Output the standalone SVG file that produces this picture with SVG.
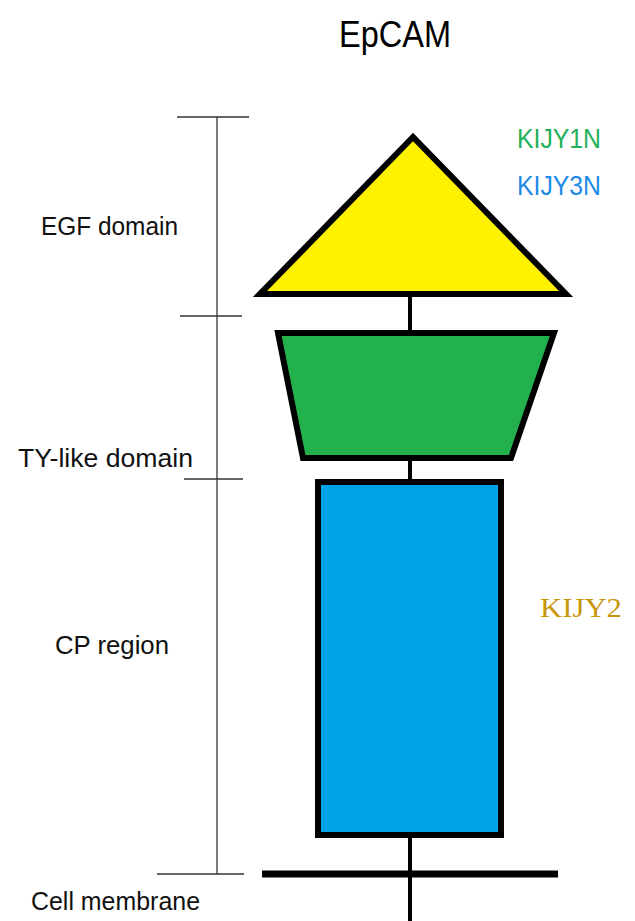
<svg xmlns="http://www.w3.org/2000/svg" width="635" height="921" viewBox="0 0 635 921">
<style>
.shape{stroke:#000;stroke-width:6;stroke-linejoin:miter}
.stem{stroke:#000;stroke-width:4;fill:none}
.scale{stroke:#333;stroke-width:1.3;fill:none}
.lbl{font-family:"Liberation Sans",Arial,sans-serif;font-size:25px;fill:#111}
.ab{font-family:"Liberation Sans",Arial,sans-serif;font-size:27px}
</style>
<rect width="635" height="921" fill="#fff"/>
<text x="395" y="47" text-anchor="middle" font-family="Liberation Sans, Arial, sans-serif" font-size="36" textLength="112" lengthAdjust="spacingAndGlyphs" fill="#000">EpCAM</text>
<g id="connectors">
<line class="stem" x1="410" y1="295" x2="410" y2="334"/>
<line class="stem" x1="410" y1="458" x2="410" y2="482"/>
<line class="stem" x1="410" y1="836" x2="410" y2="921"/>
</g>
<g id="scale">
<line class="scale" x1="217" y1="117" x2="217" y2="874"/>
<line class="scale" x1="177" y1="117" x2="249" y2="117"/>
<line class="scale" x1="180" y1="316" x2="242" y2="316"/>
<line class="scale" x1="184" y1="479" x2="243" y2="479"/>
<line class="scale" x1="157" y1="874" x2="244" y2="874"/>
</g>
<g id="egf">
<polygon class="shape" points="413,137 260,294 566,294" fill="#fff200"/>
</g>
<g id="ty">
<polygon class="shape" points="278,333 554,333 511,458 303,458" fill="#22b14c"/>
</g>
<g id="cp">
<rect class="shape" x="318" y="482" width="183" height="353" fill="#00a2e8"/>
</g>
<g id="membrane">
<line x1="262" y1="874" x2="558" y2="874" stroke="#000" stroke-width="7"/>
</g>
<text class="lbl" x="41" y="235" textLength="137" lengthAdjust="spacingAndGlyphs">EGF domain</text>
<text class="lbl" x="18" y="467" textLength="175" lengthAdjust="spacingAndGlyphs">TY-like domain</text>
<text class="lbl" x="55" y="654" textLength="114" lengthAdjust="spacingAndGlyphs">CP region</text>
<text class="lbl" x="31" y="910" textLength="169" lengthAdjust="spacingAndGlyphs">Cell membrane</text>
<text class="ab" x="517" y="148" fill="#22b05a" textLength="84" lengthAdjust="spacingAndGlyphs">KIJY1N</text>
<text class="ab" x="517" y="195" fill="#1e8ae6" textLength="84" lengthAdjust="spacingAndGlyphs">KIJY3N</text>
<text x="540" y="617" font-family="Liberation Serif, Times New Roman, serif" font-size="28" fill="#c8960c" textLength="82" lengthAdjust="spacingAndGlyphs">KIJY2</text>
</svg>
